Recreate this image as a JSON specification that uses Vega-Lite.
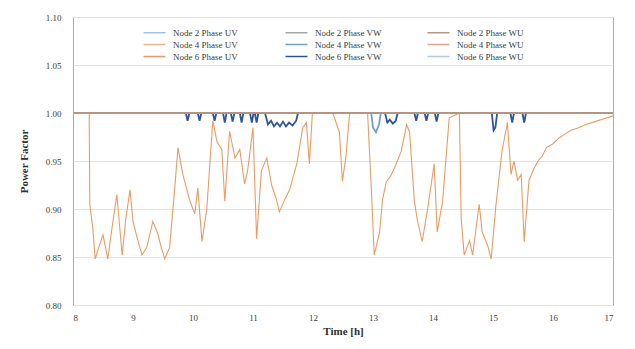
{
  "$schema": "https://vega.github.io/schema/vega-lite/v6.json",
  "autosize": "none",
  "width": 540,
  "height": 288,
  "padding": {"left": 73, "top": 17, "right": 22, "bottom": 44},
  "background": "white",
  "config": {
    "font": "Liberation Serif",
    "view": {"stroke": "#b8a898", "strokeWidth": 1}
  },
  "datasets": {
    "flat": [
      {"s": "Node 2 Phase UV", "t": 8, "pf": 1.0}, {"s": "Node 2 Phase UV", "t": 17, "pf": 1.0},
      {"s": "Node 2 Phase VW", "t": 8, "pf": 1.0}, {"s": "Node 2 Phase VW", "t": 17, "pf": 1.0},
      {"s": "Node 4 Phase UV", "t": 8, "pf": 1.0}, {"s": "Node 4 Phase UV", "t": 17, "pf": 1.0},
      {"s": "Node 4 Phase WU", "t": 8, "pf": 1.0}, {"s": "Node 4 Phase WU", "t": 17, "pf": 1.0},
      {"s": "Node 6 Phase WU", "t": 8, "pf": 1.0}, {"s": "Node 6 Phase WU", "t": 17, "pf": 1.0},
      {"s": "Node 2 Phase WU", "t": 8, "pf": 1.0}, {"s": "Node 2 Phase WU", "t": 17, "pf": 1.0}
    ],
    "vw4": [
      {"t": 8, "pf": 1.0}, {"t": 12.97, "pf": 1.0}, {"t": 13.0, "pf": 0.985}, {"t": 13.05, "pf": 0.98},
      {"t": 13.1, "pf": 0.988}, {"t": 13.13, "pf": 1.0}, {"t": 17, "pf": 1.0}
    ],
    "vw6": [
      {"t": 8, "pf": 1}, {"t": 9.88, "pf": 1}, {"t": 9.91, "pf": 0.992}, {"t": 9.94, "pf": 1},
      {"t": 10.08, "pf": 1}, {"t": 10.11, "pf": 0.992}, {"t": 10.14, "pf": 1},
      {"t": 10.33, "pf": 1}, {"t": 10.36, "pf": 0.992}, {"t": 10.39, "pf": 1},
      {"t": 10.5, "pf": 1}, {"t": 10.53, "pf": 0.99}, {"t": 10.56, "pf": 1},
      {"t": 10.63, "pf": 1}, {"t": 10.66, "pf": 0.991}, {"t": 10.69, "pf": 1},
      {"t": 10.78, "pf": 1}, {"t": 10.81, "pf": 0.99}, {"t": 10.84, "pf": 1},
      {"t": 10.95, "pf": 1}, {"t": 10.98, "pf": 0.99}, {"t": 11.01, "pf": 1},
      {"t": 11.03, "pf": 1}, {"t": 11.06, "pf": 0.99}, {"t": 11.09, "pf": 1},
      {"t": 11.2, "pf": 1}, {"t": 11.25, "pf": 0.988}, {"t": 11.3, "pf": 0.992}, {"t": 11.35, "pf": 0.986},
      {"t": 11.4, "pf": 0.99}, {"t": 11.45, "pf": 0.986}, {"t": 11.5, "pf": 0.991}, {"t": 11.55, "pf": 0.986},
      {"t": 11.6, "pf": 0.99}, {"t": 11.66, "pf": 0.987}, {"t": 11.72, "pf": 0.992}, {"t": 11.75, "pf": 1},
      {"t": 13.2, "pf": 1}, {"t": 13.24, "pf": 0.99}, {"t": 13.28, "pf": 0.993}, {"t": 13.33, "pf": 0.989},
      {"t": 13.38, "pf": 0.992}, {"t": 13.41, "pf": 1},
      {"t": 13.69, "pf": 1}, {"t": 13.72, "pf": 0.992}, {"t": 13.75, "pf": 1},
      {"t": 13.86, "pf": 1}, {"t": 13.89, "pf": 0.992}, {"t": 13.92, "pf": 1},
      {"t": 14.03, "pf": 1}, {"t": 14.06, "pf": 0.991}, {"t": 14.09, "pf": 1},
      {"t": 14.98, "pf": 1}, {"t": 15.01, "pf": 0.982}, {"t": 15.04, "pf": 0.985}, {"t": 15.07, "pf": 1},
      {"t": 15.29, "pf": 1}, {"t": 15.32, "pf": 0.99}, {"t": 15.35, "pf": 1},
      {"t": 15.49, "pf": 1}, {"t": 15.52, "pf": 0.99}, {"t": 15.55, "pf": 1},
      {"t": 17, "pf": 1}
    ],
    "uv6": [
      {"t": 8.0, "pf": 1.0}, {"t": 8.27, "pf": 1.0}, {"t": 8.28, "pf": 0.905}, {"t": 8.33, "pf": 0.88},
      {"t": 8.37, "pf": 0.848}, {"t": 8.43, "pf": 0.86}, {"t": 8.5, "pf": 0.873}, {"t": 8.58, "pf": 0.848},
      {"t": 8.65, "pf": 0.88}, {"t": 8.73, "pf": 0.915}, {"t": 8.78, "pf": 0.88}, {"t": 8.82, "pf": 0.852},
      {"t": 8.88, "pf": 0.89}, {"t": 8.95, "pf": 0.92}, {"t": 9.0, "pf": 0.887}, {"t": 9.07, "pf": 0.87},
      {"t": 9.15, "pf": 0.852}, {"t": 9.23, "pf": 0.86}, {"t": 9.33, "pf": 0.887}, {"t": 9.41, "pf": 0.875},
      {"t": 9.47, "pf": 0.86}, {"t": 9.53, "pf": 0.848}, {"t": 9.61, "pf": 0.86}, {"t": 9.68, "pf": 0.91},
      {"t": 9.75, "pf": 0.964}, {"t": 9.83, "pf": 0.936}, {"t": 9.95, "pf": 0.908}, {"t": 10.03, "pf": 0.895},
      {"t": 10.08, "pf": 0.922}, {"t": 10.15, "pf": 0.866}, {"t": 10.23, "pf": 0.9}, {"t": 10.33, "pf": 0.992},
      {"t": 10.4, "pf": 0.97}, {"t": 10.48, "pf": 0.962}, {"t": 10.53, "pf": 0.908}, {"t": 10.61, "pf": 0.981},
      {"t": 10.7, "pf": 0.953}, {"t": 10.78, "pf": 0.962}, {"t": 10.86, "pf": 0.926}, {"t": 10.91, "pf": 0.94},
      {"t": 11.0, "pf": 0.985}, {"t": 11.06, "pf": 0.869}, {"t": 11.14, "pf": 0.94}, {"t": 11.23, "pf": 0.953},
      {"t": 11.31, "pf": 0.925}, {"t": 11.39, "pf": 0.91}, {"t": 11.44, "pf": 0.897}, {"t": 11.53, "pf": 0.91},
      {"t": 11.61, "pf": 0.92}, {"t": 11.73, "pf": 0.947}, {"t": 11.83, "pf": 0.985}, {"t": 11.89, "pf": 0.99},
      {"t": 11.94, "pf": 0.947}, {"t": 11.99, "pf": 1.0}, {"t": 12.33, "pf": 1.0}, {"t": 12.44, "pf": 0.98},
      {"t": 12.49, "pf": 0.929}, {"t": 12.55, "pf": 0.955}, {"t": 12.61, "pf": 1.0}, {"t": 12.91, "pf": 1.0},
      {"t": 12.98, "pf": 0.911}, {"t": 13.02, "pf": 0.852}, {"t": 13.11, "pf": 0.876}, {"t": 13.16, "pf": 0.91},
      {"t": 13.22, "pf": 0.928}, {"t": 13.3, "pf": 0.935}, {"t": 13.36, "pf": 0.943}, {"t": 13.47, "pf": 0.96},
      {"t": 13.56, "pf": 0.988}, {"t": 13.61, "pf": 0.98}, {"t": 13.69, "pf": 0.908}, {"t": 13.74, "pf": 0.888},
      {"t": 13.82, "pf": 0.866}, {"t": 13.91, "pf": 0.9}, {"t": 14.02, "pf": 0.947}, {"t": 14.07, "pf": 0.876},
      {"t": 14.16, "pf": 0.908}, {"t": 14.27, "pf": 0.995}, {"t": 14.44, "pf": 1.0}, {"t": 14.47, "pf": 0.89},
      {"t": 14.52, "pf": 0.852}, {"t": 14.61, "pf": 0.867}, {"t": 14.66, "pf": 0.852}, {"t": 14.77, "pf": 0.905},
      {"t": 14.82, "pf": 0.876}, {"t": 14.91, "pf": 0.862}, {"t": 14.97, "pf": 0.848}, {"t": 15.05, "pf": 0.905},
      {"t": 15.15, "pf": 0.96}, {"t": 15.24, "pf": 0.99}, {"t": 15.3, "pf": 0.936}, {"t": 15.35, "pf": 0.95},
      {"t": 15.41, "pf": 0.93}, {"t": 15.47, "pf": 0.936}, {"t": 15.52, "pf": 0.866}, {"t": 15.6, "pf": 0.93},
      {"t": 15.69, "pf": 0.943}, {"t": 15.75, "pf": 0.95}, {"t": 15.82, "pf": 0.955}, {"t": 15.89, "pf": 0.964},
      {"t": 16.0, "pf": 0.968}, {"t": 16.1, "pf": 0.974}, {"t": 16.2, "pf": 0.978}, {"t": 16.3, "pf": 0.982},
      {"t": 16.44, "pf": 0.985}, {"t": 16.55, "pf": 0.988}, {"t": 16.7, "pf": 0.991}, {"t": 16.85, "pf": 0.994},
      {"t": 17.0, "pf": 0.997}
    ]
  },
  "encoding": {
    "x": {
      "field": "t", "type": "quantitative",
      "scale": {"domain": [8, 17], "nice": false},
      "axis": {
        "title": "Time [h]", "values": [8, 9, 10, 11, 12, 13, 14, 15, 16, 17],
        "grid": false, "domain": false, "ticks": false, "labelPadding": 8,
        "labelFontSize": 9, "labelColor": "#404040", "titleFontSize": 11,
        "titleColor": "#303030", "titlePadding": 3, "titleFontWeight": "bold"
      }
    },
    "y": {
      "field": "pf", "type": "quantitative",
      "scale": {"domain": [0.8, 1.1], "nice": false, "zero": false},
      "axis": {
        "title": "Power Factor", "values": [0.8, 0.85, 0.9, 0.95, 1.0, 1.05, 1.1],
        "format": ".2f", "grid": true, "gridColor": "#e4e4e4", "domain": false,
        "ticks": false, "labelPadding": 12, "labelFontSize": 9, "labelColor": "#404040",
        "titleFontSize": 11, "titleColor": "#303030", "titlePadding": 16, "titleFontWeight": "bold"
      }
    },
    "color": {
      "field": "s", "type": "nominal",
      "scale": {
        "domain": ["Node 2 Phase UV", "Node 4 Phase UV", "Node 6 Phase UV",
                   "Node 2 Phase VW", "Node 4 Phase VW", "Node 6 Phase VW",
                   "Node 2 Phase WU", "Node 4 Phase WU", "Node 6 Phase WU"],
        "range": ["#9dc3e6", "#f4b183", "#ee9a64",
                  "#a5a5a5", "#6fa0c8", "#2f5597",
                  "#b8957a", "#e8a090", "#b4c7e7"]
      },
      "legend": {
        "title": null, "orient": "none", "legendX": 75, "legendY": 9,
        "columns": 3, "columnPadding": 42, "rowPadding": 0, "gridAlign": "all",
        "symbolType": "M-2,0L2,0", "symbolSize": 121, "symbolStrokeWidth": 1.5,
        "labelFontSize": 9, "labelColor": "#404040", "labelOffset": 12,
        "symbolOffset": 0
      }
    }
  },
  "layer": [
    {"data": {"name": "vw6"}, "transform": [{"calculate": "'Node 6 Phase VW'", "as": "s"}], "mark": {"type": "line", "strokeWidth": 1.8}},
    {"data": {"name": "vw4"}, "transform": [{"calculate": "'Node 4 Phase VW'", "as": "s"}], "mark": {"type": "line", "strokeWidth": 1.8}},
    {"data": {"name": "uv6"}, "transform": [{"calculate": "'Node 6 Phase UV'", "as": "s"}], "mark": {"type": "line", "strokeWidth": 1.1}},
    {"data": {"name": "flat"}, "mark": {"type": "line", "strokeWidth": 2}}
  ]
}
